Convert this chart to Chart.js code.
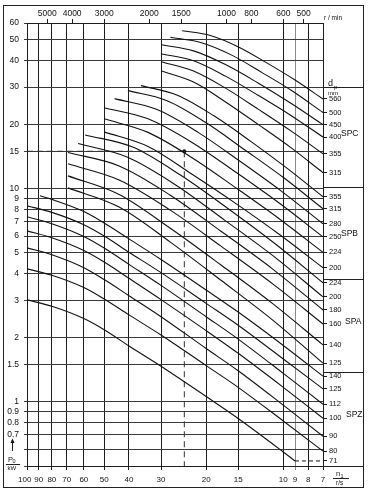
<!DOCTYPE html>
<html>
<head>
<meta charset="utf-8">
<title>Power rating P0 of narrow V-belts</title>
<script src="https://cdn.jsdelivr.net/npm/chart.js@4.4.0/dist/chart.umd.min.js"></script>
<style>
  html, body { margin: 0; padding: 0; background: #fff; }
  #wrap { width: 371px; height: 494px; }
</style>
</head>
<body>
<div id="wrap"><canvas id="beltChart" width="371" height="494"></canvas></div>
<script>
// AXIS TICKS
var speedTicks = [100, 90, 80, 70, 60, 50, 40, 30, 20, 15, 10, 9, 8, 7];      // n1 in r/s
var rpmTicks = [5000, 4000, 3000, 2000, 1500, 1000, 800, 600, 500];          // r/min on top
var powerTicks = [60, 50, 40, 30, 20, 15, 10, 9, 8, 7, 6, 5, 4, 3, 2, 1.5, 1, 0.9, 0.8, 0.7, 0.6, 0.5];

// PULLEY DIAMETERS dp (mm)
var spzDiameters = [71, 80, 90, 100, 112, 125, 140];
var spaDiameters = [125, 140, 160, 180, 200, 224];
var spbDiameters = [200, 224, 250, 280, 315, 355];
var spcDiameters = [315, 355, 400, 450, 500, 560];

// CURVES: [n1 r/s, P0 kW]
var spzCurves = [
  [[100, 3.01], [80, 2.81], [60, 2.46], [50, 2.18], [40, 1.83], [30, 1.47], [20, 1.06], [15, 0.836], [10, 0.582], [9, 0.528]],
  [[100, 4.21], [80, 3.93], [60, 3.44], [50, 3.04], [40, 2.56], [30, 2.06], [20, 1.48], [15, 1.17], [10, 0.813], [7, 0.587]],
  [[100, 5.28], [80, 4.90], [60, 4.26], [50, 3.75], [40, 3.15], [30, 2.51], [20, 1.78], [15, 1.40], [10, 0.965], [7, 0.690]],
  [[100, 6.35], [80, 5.89], [60, 5.13], [50, 4.53], [40, 3.80], [30, 3.02], [20, 2.16], [15, 1.69], [10, 1.17], [7, 0.838]],
  [[100, 7.39], [80, 6.86], [60, 5.97], [50, 5.27], [40, 4.42], [30, 3.52], [20, 2.51], [15, 1.97], [10, 1.36], [7, 0.975]],
  [[100, 8.32], [80, 7.75], [60, 6.78], [50, 6.00], [40, 5.04], [30, 4.04], [20, 2.90], [15, 2.29], [10, 1.59], [7, 1.15]],
  [[89, 9.27], [80, 8.92], [60, 7.82], [50, 6.91], [40, 5.82], [30, 4.66], [20, 3.35], [15, 2.64], [10, 1.84], [7, 1.32]]
];
var spaCurves = [
  [[69.2, 10.1], [43.7, 8.21], [27.6, 5.62], [17.5, 3.72], [11.0, 2.42], [7, 1.52]],
  [[69.2, 11.5], [43.7, 9.41], [27.6, 6.53], [17.5, 4.39], [11.0, 2.89], [7, 1.85]],
  [[69.2, 13.1], [43.7, 11.0], [27.6, 7.94], [17.5, 5.38], [11.0, 3.58], [7, 2.32]],
  [[69.2, 14.8], [43.7, 12.8], [27.6, 9.33], [17.5, 6.32], [11.0, 4.20], [7, 2.70]],
  [[63.2, 16.3], [40.7, 14.1], [26.2, 10.4], [16.9, 7.11], [10.8, 4.78], [7, 3.11]],
  [[59.3, 17.9], [38.7, 15.7], [25.2, 11.6], [16.4, 8.06], [10.7, 5.49], [7, 3.62]]
];
var spbCurves = [
  [[50, 18.5], [33.7, 15.8], [22.7, 11.7], [15.3, 8.52], [10.35, 6.10], [7, 4.26]],
  [[50, 21.3], [33.7, 18.4], [22.7, 14.0], [15.3, 10.1], [10.35, 7.22], [7, 5.03]],
  [[50, 24.0], [33.7, 21.3], [22.7, 16.5], [15.3, 11.95], [10.35, 8.55], [7, 5.95]],
  [[45.5, 26.5], [31.25, 23.6], [21.5, 18.4], [14.8, 13.5], [10.15, 9.73], [7, 6.85]],
  [[40.4, 28.9], [28.4, 25.9], [20.0, 20.4], [14.1, 15.2], [9.9, 11.2], [7, 8.06]],
  [[35.9, 30.5], [25.9, 27.5], [18.65, 22.0], [13.4, 16.7], [9.68, 12.5], [7, 9.17]]
];
var spcCurves = [
  [[30, 35.8], [22.4, 31.7], [16.74, 25.5], [12.5, 20.0], [9.34, 15.6], [7, 11.9]],
  [[30, 39.5], [22.4, 35.7], [16.74, 29.6], [12.5, 23.6], [9.34, 18.7], [7, 14.6]],
  [[30, 43.0], [22.4, 39.9], [16.74, 33.7], [12.5, 27.4], [9.34, 22.1], [7, 17.5]],
  [[30, 47.4], [22.4, 44.4], [16.74, 38.2], [12.5, 31.3], [9.34, 25.2], [7, 20.0]],
  [[27.6, 51.4], [21.0, 48.6], [15.9, 42.4], [12.1, 35.1], [9.19, 28.7], [7, 22.8]],
  [[24.8, 55.2], [19.25, 52.4], [14.9, 46.2], [11.6, 39.0], [9.0, 32.4], [7, 26.4]]
];

// worked example: 1460 r/min, 15 kW
var exampleSpeed = 1460 / 60;
var examplePower = 15;

var ink = "#111";
var fontFamily = "'Liberation Sans', Arial, Helvetica, sans-serif";

// right hand labels (dp) sit at the end of every curve
var endPower = [];
var endLabel = [];
[[spzDiameters, spzCurves], [spaDiameters, spaCurves], [spbDiameters, spbCurves], [spcDiameters, spcCurves]].forEach(function (s) {
  s[1].forEach(function (c, i) {
    endPower.push(c[c.length - 1][1]);
    endLabel.push(s[0][i]);
  });
});

function curveSets(curves) {
  return curves.map(function (c) {
    return {
      data: c.map(function (p) { return { x: p[0], y: p[1] }; }),
      borderColor: ink,
      borderWidth: 1.1,
      pointRadius: 0,
      fill: false,
      cubicInterpolationMode: "monotone"
    };
  });
}

var datasets = [].concat(curveSets(spzCurves), curveSets(spaCurves), curveSets(spbCurves), curveSets(spcCurves));

// dashed run-out of the 71 mm curve
var lastZ = spzCurves[0][spzCurves[0].length - 1];
datasets.push({
  data: [{ x: lastZ[0], y: lastZ[1] }, { x: 7, y: lastZ[1] }],
  borderColor: ink, borderWidth: 1, borderDash: [4, 3], pointRadius: 0, fill: false
});
// example lines
datasets.push({
  data: [{ x: 100, y: examplePower }, { x: exampleSpeed, y: examplePower }],
  borderColor: "#333", borderWidth: 1, borderDash: [6, 4], pointRadius: 0, fill: false
});
datasets.push({
  data: [{ x: exampleSpeed, y: examplePower }, { x: exampleSpeed, y: 0.5 }],
  borderColor: "#333", borderWidth: 1, borderDash: [6, 4], pointRadius: 0, fill: false
});
datasets.push({
  data: [{ x: exampleSpeed, y: examplePower }],
  borderColor: ink, backgroundColor: ink, pointRadius: 1.6, showLine: false
});

function fixedTicks(values) {
  return function (scale) {
    scale.ticks = values.map(function (v) { return { value: v }; });
  };
}

// frame, label column and axis captions
var beltDecor = {
  id: "beltDecor",
  afterDraw: function (chart) {
    var ctx = chart.ctx;
    var area = chart.chartArea;
    var y2 = chart.scales.y2;
    var frameR = 363.5, frameB = 487.5;

    function hline(x0, x1, y) {
      ctx.beginPath(); ctx.moveTo(x0, y); ctx.lineTo(x1, y); ctx.stroke();
    }
    function txt(s, x, y, size, align) {
      ctx.font = size + "px " + fontFamily;
      ctx.textAlign = align || "left";
      ctx.fillText(s, x, y);
    }

    ctx.save();
    ctx.strokeStyle = "#222";
    ctx.fillStyle = ink;
    ctx.lineWidth = 1;
    ctx.strokeRect(3.5, 5.5, frameR - 3.5, frameB - 5.5);

    [30, 10.25, 3.77, 1.38, 0.5].forEach(function (p) {
      hline(area.right, frameR, Math.round(y2.getPixelForValue(p)) + 0.5);
    });

    ctx.textBaseline = "middle";
    [["SPC", 18.2, 341], ["SPB", 6.15, 341], ["SPA", 2.37, 345], ["SPZ", 0.869, 346]].forEach(function (l) {
      txt(l[0], l[2], y2.getPixelForValue(l[1]), 8.5);
    });

    // dp / mm header
    txt("d", 328, 84, 9);
    txt("p", 334, 87, 6);
    txt("mm", 328, 93.5, 6);

    // r/min on top
    txt("r / min", 324, 18, 6.5);

    // n1 / r/s bottom right
    txt("n", 336, 474, 7.5);
    txt("1", 340.5, 476, 5.5);
    hline(333, 349, 478.5);
    txt("r/s", 336, 483, 6.5);

    // P0 / kW with arrow
    ctx.beginPath(); ctx.moveTo(12.5, 451); ctx.lineTo(12.5, 441); ctx.stroke();
    ctx.beginPath(); ctx.moveTo(10.5, 443); ctx.lineTo(12.5, 438.5); ctx.lineTo(14.5, 443); ctx.closePath(); ctx.fill();
    txt("P", 8, 459.5, 7.5);
    txt("0", 12.5, 461.5, 5.5);
    hline(6, 20, 464.5);
    txt("kW", 7.5, 468.5, 6);
    ctx.restore();
  }
};

var tickFont = { family: fontFamily, size: 8.5 };

var beltChart = new Chart(document.getElementById("beltChart").getContext("2d"), {
  type: "line",
  data: { datasets: datasets },
  plugins: [beltDecor],
  options: {
    responsive: false,
    maintainAspectRatio: false,
    animation: false,
    layout: { padding: 0 },
    plugins: { legend: { display: false }, tooltip: { enabled: false } },
    scales: {
      x: {
        type: "logarithmic", position: "bottom", reverse: true, min: 7, max: 100,
        afterBuildTicks: fixedTicks(speedTicks),
        afterFit: function (s) { s.height = 28; },
        ticks: { autoSkip: false, maxRotation: 0, padding: 5, color: ink, font: { family: fontFamily, size: 8 },
                 callback: function (v) { return v === 100 ? "100\u00a0\u00a0" : String(v); } },
        grid: { color: function (c) { return c.tick && c.tick.value === 9 ? "#8a8a8a" : "#1e1e1e"; }, lineWidth: 1, tickLength: 4 },
        border: { color: "#1e1e1e" }
      },
      x2: {
        type: "logarithmic", position: "top", reverse: true, min: 7, max: 100,
        afterBuildTicks: fixedTicks(rpmTicks.map(function (r) { return r / 60; })),
        afterFit: function (s) { s.height = 23; },
        ticks: { autoSkip: false, maxRotation: 0, padding: 0, color: ink, font: tickFont,
                 callback: function (v, i) { return String(rpmTicks[i]); } },
        grid: { drawOnChartArea: false, color: "#1e1e1e", tickLength: 4 },
        border: { color: "#1e1e1e" }
      },
      y: {
        type: "logarithmic", position: "left", min: 0.5, max: 60,
        afterBuildTicks: fixedTicks(powerTicks),
        afterFit: function (s) { s.width = 27; },
        ticks: { autoSkip: false, padding: 5, color: ink, font: tickFont,
                 callback: function (v) { return (v === 0.6 || v === 0.5) ? "" : String(v); } },
        grid: { color: "#3a3a3a", lineWidth: 1, tickLength: 3 },
        border: { color: "#1e1e1e" }
      },
      y2: {
        type: "logarithmic", position: "right", min: 0.5, max: 60,
        afterBuildTicks: fixedTicks(endPower),
        afterFit: function (s) { s.width = 48; },
        ticks: { autoSkip: false, padding: 2, color: ink, font: { family: fontFamily, size: 7.5 },
                 callback: function (v, i) { return String(endLabel[i]); } },
        grid: { drawOnChartArea: false, color: "#1e1e1e", tickLength: 4 },
        border: { color: "#1e1e1e" }
      }
    }
  }
});
</script>
</body>
</html>
